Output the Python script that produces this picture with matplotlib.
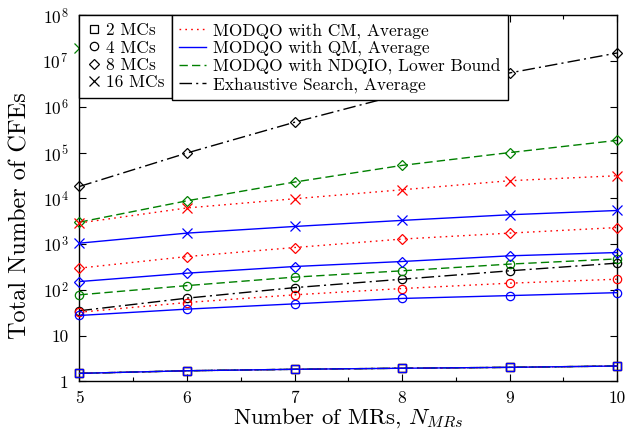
import numpy as np
import matplotlib
matplotlib.use("Agg")
import matplotlib.pyplot as plt
from matplotlib.lines import Line2D
from matplotlib.ticker import FixedLocator, FixedFormatter, MultipleLocator

plt.rcParams['font.family'] = 'serif'
plt.rcParams['font.serif'] = ['cmr10']
plt.rcParams['mathtext.fontset'] = 'cm'
plt.rcParams['axes.unicode_minus'] = False

# ---------------- data ----------------
n_mrs = [5, 6, 7, 8, 9, 10]

mc2_all = [1.5, 1.71, 1.84, 1.94, 2.03, 2.17]

cm_4 = [32.5, 53, 78, 107, 140, 171]
cm_8 = [299, 535, 842, 1290, 1740, 2300]
cm_16 = [2900, 6170, 9800, 15400, 24300, 31200]

qm_4 = [27.6, 38, 49.5, 65, 75, 87]
qm_8 = [152, 232, 324, 417, 555, 655]
qm_16 = [1050, 1740, 2430, 3300, 4380, 5430]

ndqio_4 = [78, 124, 190, 261, 366, 475]
ndqio_8 = [3020, 8850, 22700, 52500, 100000, 185000]
ndqio_16 = [1.9e7, np.nan, np.nan, np.nan, np.nan, np.nan]

es_4 = [35, 66, 112, 171, 261, 384]
es_8 = [1.82e4, 9.8e4, 4.6e5, 1.9e6, 5.5e6, 1.5e7]

y_ticks = [1, 10, 1e2, 1e3, 1e4, 1e5, 1e6, 1e7, 1e8]
y_tick_labels = ['1', '10', '$10^2$', '$10^3$', '$10^4$', '$10^5$', '$10^6$', '$10^7$', '$10^8$']

mc_labels = ['2 MCs', '4 MCs', '8 MCs', '16 MCs']
method_labels = ['MODQO with CM, Average', 'MODQO with QM, Average',
                 'MODQO with NDQIO, Lower Bound', 'Exhaustive Search, Average']

# ---------------- styles ----------------
RED, BLUE, GREEN, BLACK = '#ff0000', '#0000ff', '#008000', '#000000'
ls_cm = (0, (1.2, 3.0))
ls_qm = '-'
ls_nd = (0, (6, 3))
ls_es = (0, (9, 3, 1.5, 3))
mk = {2: 's', 4: 'o', 8: 'D', 16: 'x'}
msz = {2: 6, 4: 6, 8: 5, 16: 6.5}

fig = plt.figure(figsize=(6.39, 4.36), dpi=100)
ax = fig.add_axes([0.1244, 0.1252, 0.8412, 0.8397])

def draw(y, color, ls, mc):
    ax.plot(n_mrs, y, color=color, linestyle=ls, lw=1.0, marker=mk[mc],
            ms=msz[mc], mfc='none', mec=color, mew=0.9, clip_on=False, zorder=3)

# order: exhaustive, NDQIO, CM, QM
draw(es_4, BLACK, ls_es, 4)
draw(es_8, BLACK, ls_es, 8)
draw(mc2_all, BLACK, ls_es, 2)
draw(ndqio_4, GREEN, ls_nd, 4)
draw(ndqio_8, GREEN, ls_nd, 8)
draw(ndqio_16, GREEN, ls_nd, 16)
draw(mc2_all, GREEN, ls_nd, 2)
draw(cm_4, RED, ls_cm, 4)
draw(cm_8, RED, ls_cm, 8)
draw(cm_16, RED, ls_cm, 16)
draw(mc2_all, RED, ls_cm, 2)
draw(qm_4, BLUE, ls_qm, 4)
draw(qm_8, BLUE, ls_qm, 8)
draw(qm_16, BLUE, ls_qm, 16)
draw(mc2_all, BLUE, ls_qm, 2)

ax.set_yscale('log')
ax.set_xlim(5, 10)
ax.set_ylim(1, 1e8)
ax.yaxis.set_major_locator(FixedLocator(y_ticks))
ax.yaxis.set_major_formatter(FixedFormatter(y_tick_labels))
ax.yaxis.set_minor_locator(FixedLocator([]))
ax.xaxis.set_major_locator(MultipleLocator(1))
ax.xaxis.set_minor_locator(MultipleLocator(0.5))
ax.tick_params(which='both', direction='in', top=True, right=True, labelsize=12.5)
ax.tick_params(which='major', length=5, width=0.8)
ax.tick_params(which='minor', length=3, width=0.8)
ax.tick_params(axis='x', pad=7)
ax.tick_params(axis='y', pad=8)
for s in ax.spines.values():
    s.set_linewidth(1.0)
    s.set_color('black')

ax.set_xlabel('Number of MRs, $N_{MRs}$', fontsize=16.5, labelpad=0)
ax.set_ylabel('Total Number of CFEs', fontsize=17.5, labelpad=2)
ax.yaxis.set_label_coords(-0.09, 0.452)

# legends
common = dict(loc='upper left', borderaxespad=0, fancybox=False, edgecolor='k',
              framealpha=1, fontsize=12.5, labelspacing=0.12, borderpad=0.43)
h1 = [Line2D([], [], color='k', ls='none', marker=mk[m], ms=msz[m], mfc='none', mew=0.9)
      for m in (2, 4, 8, 16)]
leg1 = ax.legend(h1, mc_labels, bbox_to_anchor=(0, 1),
                 handlelength=0.8, handletextpad=0.3, **common)
leg1.get_frame().set_linewidth(1.0)
leg1.set_zorder(5)
ax.add_artist(leg1)

fig.canvas.draw()
bb = leg1.get_window_extent().transformed(ax.transAxes.inverted())

h2 = [Line2D([], [], color=RED, ls=ls_cm, lw=1.0),
      Line2D([], [], color=BLUE, ls=ls_qm, lw=1.0),
      Line2D([], [], color=GREEN, ls=ls_nd, lw=1.0),
      Line2D([], [], color=BLACK, ls=ls_es, lw=1.0)]
leg2 = ax.legend(h2, method_labels, bbox_to_anchor=(bb.x1, 1),
                 handlelength=1.5, handletextpad=0.45, **common)
leg2.get_frame().set_linewidth(1.0)
leg2.set_zorder(5)

fig.savefig('out.png', dpi=100)
